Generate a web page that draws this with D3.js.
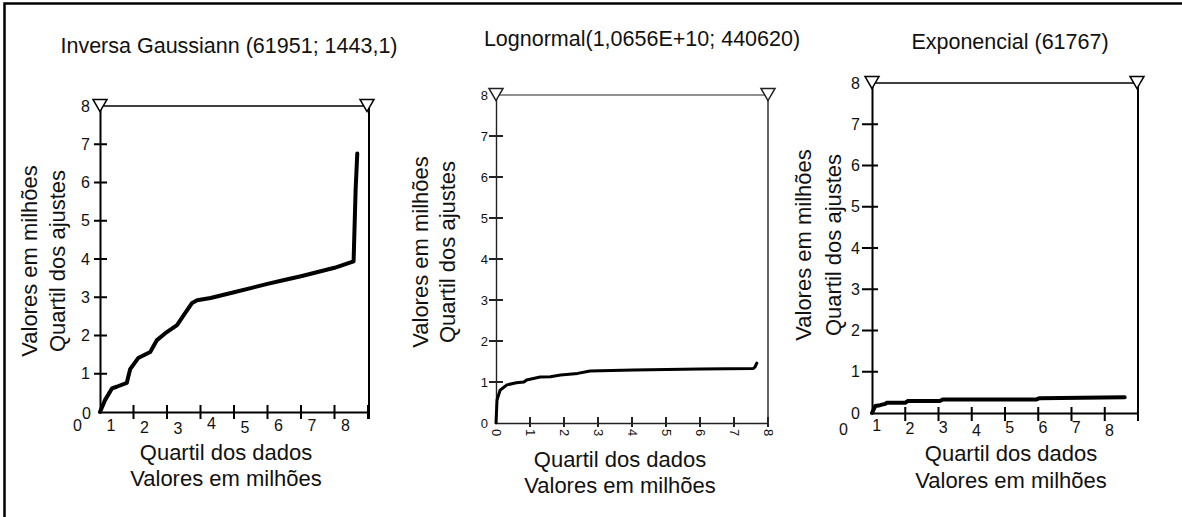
<!DOCTYPE html>
<html>
<head>
<meta charset="utf-8">
<script src="https://cdn.jsdelivr.net/npm/d3@7"></script>
<style>
  html, body { margin: 0; padding: 0; background: #fff; }
  svg { display: block; font-family: "Liberation Sans", Arial, sans-serif; }
</style>
</head>
<body>
<svg id="chart" width="1182" height="517"></svg>
<script>
// ---------------- data ----------------
const titles = ["Inversa Gaussiann (61951; 1443,1)", "Lognormal(1,0656E+10; 440620)", "Exponencial (61767)"];
const xAxisTitle1 = "Quartil dos dados";
const xAxisTitle2 = "Valores em milhões";
const yAxisTitle1 = "Valores em milhões";
const yAxisTitle2 = "Quartil dos ajustes";
const xTickValues = [0, 1, 2, 3, 4, 5, 6, 7, 8];
const yTickValues = [0, 1, 2, 3, 4, 5, 6, 7, 8];

// Inverse Gaussian fit: data quantile (millions) vs fitted quantile (millions)
const invGaussX = [0, 0.15, 0.36, 0.5, 0.8, 0.84, 0.9, 1.14, 1.5, 1.7, 1.95, 2.3, 2.5, 2.75, 2.9, 3.3, 4.0, 4.5, 5.0, 5.5, 6.0, 6.5, 7.0, 7.57, 7.63, 7.68];
const invGaussY = [0, 0.31, 0.62, 0.66, 0.76, 0.91, 1.12, 1.41, 1.57, 1.88, 2.06, 2.27, 2.53, 2.85, 2.92, 2.98, 3.13, 3.24, 3.35, 3.45, 3.55, 3.66, 3.77, 3.94, 5.8, 6.76];

// Lognormal fit
const lognormX = [0, 0.03, 0.12, 0.32, 0.6, 0.82, 0.9, 1.3, 1.6, 1.9, 2.4, 2.77, 4.04, 6.0, 7.57, 7.62, 7.67];
const lognormY = [0, 0.56, 0.8, 0.93, 0.98, 1.0, 1.05, 1.12, 1.13, 1.17, 1.21, 1.27, 1.29, 1.32, 1.33, 1.37, 1.46];

// Exponential fit
const expX = [0, 0.1, 0.24, 0.4, 0.45, 1.0, 1.08, 2.04, 2.14, 4.95, 5.04, 7.6];
const expY = [0, 0.17, 0.19, 0.22, 0.25, 0.25, 0.29, 0.29, 0.33, 0.33, 0.36, 0.38];

// ---------------- layout / style ----------------
const panels = [
  { xs: invGaussX, ys: invGaussY, title: titles[0],
    x0: 100, x1: 368, y0: 412, yTop: 106, rightX: 369, triRightX: 367,
    titleX: 229, titleY: 53, lineW: 4, axisW: 2, frameW: 1.5, color: "#000",
    tickFont: 16, yLabDx: -10, yTickIn: 7, yTickOut: 6, xTickUp: 7, xTickDown: 7,
    xLabMode: "shift", xLabDx: -23, xLabY: [425, 425, 427, 428, 423, 427, 425, 425, 425],
    yZeroDy: 1, yZeroDx: 1,
    ytitle1X: 37, ytitle2X: 65, ytitleY: 261,
    xtitle1Y: 460, xtitle2Y: 486, xtitleX: 226 },
  { xs: lognormX, ys: lognormY, title: titles[1],
    x0: 496, x1: 768, y0: 423, yTop: 95, rightX: 768, triRightX: 768,
    titleX: 642, titleY: 46, lineW: 3, axisW: 1.4, frameW: 1, color: "#222",
    tickFont: 13, yLabDx: -8, yTickIn: 7, yTickOut: 7, xTickUp: 6, xTickDown: 4,
    xLabMode: "rotate",
    yZeroDy: 0, yZeroDx: 0,
    ytitle1X: 428, ytitle2X: 455, ytitleY: 252,
    xtitle1Y: 467, xtitle2Y: 493, xtitleX: 620 },
  { xs: expX, ys: expY, title: titles[2],
    x0: 872, x1: 1138, y0: 413, yTop: 83, rightX: 1138, triRightX: 1137,
    titleX: 1010, titleY: 49, lineW: 4, axisW: 2, frameW: 1.5, color: "#000",
    tickFont: 16, yLabDx: -12, yTickIn: 6, yTickOut: 10, xTickUp: 6, xTickDown: 8,
    xLabMode: "shift", xLabDx: -29, xLabY: [429, 425, 428, 427, 430, 427, 427, 427, 430],
    yZeroDy: 0, yZeroDx: 0,
    ytitle1X: 811, ytitle2X: 841, ytitleY: 245,
    xtitle1Y: 461, xtitle2Y: 488, xtitleX: 1011 }
];

const svg = d3.select("#chart");

// outer frame (left and top edges visible)
svg.append("path").attr("d", "M4.5,517V3.5H1182")
  .attr("fill", "none").attr("stroke", "#000").attr("stroke-width", 2.5);

const tri = d3.symbol().type(d3.symbolTriangle).size(85);

panels.forEach(p => {
  const g = svg.append("g");
  const x = d3.scaleLinear().domain([0, 8]).range([p.x0, p.x1]);
  const y = d3.scaleLinear().domain([0, 8]).range([p.y0, p.yTop]);

  // title
  g.append("text").attr("x", p.titleX).attr("y", p.titleY)
    .attr("text-anchor", "middle").attr("font-size", 21.5).attr("fill", "#111")
    .text(p.title);

  // frame: top line and right line
  g.append("path")
    .attr("d", `M${p.x0},${p.yTop}H${p.triRightX}`)
    .attr("fill", "none").attr("stroke", p.color).attr("stroke-width", p.frameW);
  g.append("path")
    .attr("d", `M${p.rightX},${p.yTop}V${p.y0 + p.xTickDown}`)
    .attr("fill", "none").attr("stroke", p.color).attr("stroke-width", p.axisW);

  // y axis (labels + domain)
  const yAxis = d3.axisLeft(y).tickValues(yTickValues).tickSize(0).tickPadding(0).tickFormat(d3.format("d"));
  const ga = g.append("g").attr("transform", `translate(${p.x0},0)`).call(yAxis);
  ga.select(".domain").attr("stroke", p.color).attr("stroke-width", p.axisW);
  ga.selectAll(".tick text").attr("x", p.yLabDx).attr("font-size", p.tickFont)
    .attr("font-family", "Liberation Sans, Arial, sans-serif").attr("fill", "#111");
  ga.selectAll(".tick").filter(d => d === 0).select("text")
    .attr("dy", (0.32 + p.yZeroDy / p.tickFont) + "em").attr("x", p.yLabDx + p.yZeroDx);

  // y tick marks crossing the axis (one path built from the scale)
  const yTickPath = yTickValues.filter(d => d > 0 && d < 8)
    .map(d => `M${p.x0 - p.yTickOut},${y(d)}H${p.x0 + p.yTickIn}`).join("");
  g.append("path").attr("class", "yticks").attr("d", yTickPath)
    .attr("fill", "none").attr("stroke", p.color).attr("stroke-width", 2);

  // x axis (labels + domain)
  const xAxis = d3.axisBottom(x).tickValues(xTickValues).tickSize(0).tickPadding(0).tickFormat(d3.format("d"));
  const gx = g.append("g").attr("transform", `translate(0,${p.y0})`).call(xAxis);
  gx.select(".domain").attr("stroke", p.color).attr("stroke-width", p.axisW);
  const xt = gx.selectAll(".tick text").attr("font-size", p.tickFont)
    .attr("font-family", "Liberation Sans, Arial, sans-serif").attr("fill", "#111");
  if (p.xLabMode === "shift") {
    xt.attr("x", p.xLabDx).attr("y", (d, i) => p.xLabY[i] - p.y0).attr("dy", "0.35em");
  } else {
    xt.attr("transform", "rotate(90)").attr("text-anchor", "start")
      .attr("x", 6).attr("y", 0).attr("dy", "0.35em");
  }

  // x tick marks crossing the axis
  const xTickPath = xTickValues.filter(d => d > 0)
    .map(d => `M${x(d)},${p.y0 - p.xTickUp}V${p.y0 + p.xTickDown}`).join("");
  g.append("path").attr("class", "xticks").attr("d", xTickPath)
    .attr("fill", "none").attr("stroke", p.color).attr("stroke-width", 2);

  // triangles
  [p.x0, p.triRightX].forEach(cx => {
    g.append("path").attr("d", tri)
      .attr("transform", `translate(${cx},${p.yTop - 2.5}) rotate(180)`)
      .attr("fill", "#fff").attr("stroke", p.color).attr("stroke-width", 1.5);
  });

  // data line
  const pts = p.xs.map((v, i) => [v, p.ys[i]]);
  g.append("path").datum(pts)
    .attr("d", d3.line().x(d => x(d[0])).y(d => y(d[1])))
    .attr("fill", "none").attr("stroke", "#000").attr("stroke-width", p.lineW)
    .attr("stroke-linejoin", "round").attr("stroke-linecap", "round");

  // axis titles
  g.append("text").attr("transform", `translate(${p.ytitle1X},${p.ytitleY}) rotate(-90)`)
    .attr("text-anchor", "middle").attr("font-size", 22).attr("fill", "#111").text(yAxisTitle1);
  g.append("text").attr("transform", `translate(${p.ytitle2X},${p.ytitleY}) rotate(-90)`)
    .attr("text-anchor", "middle").attr("font-size", 22).attr("fill", "#111").text(yAxisTitle2);
  g.append("text").attr("x", p.xtitleX).attr("y", p.xtitle1Y)
    .attr("text-anchor", "middle").attr("font-size", 22).attr("fill", "#111").text(xAxisTitle1);
  g.append("text").attr("x", p.xtitleX).attr("y", p.xtitle2Y)
    .attr("text-anchor", "middle").attr("font-size", 22).attr("fill", "#111").text(xAxisTitle2);
});
</script>
</body>
</html>
